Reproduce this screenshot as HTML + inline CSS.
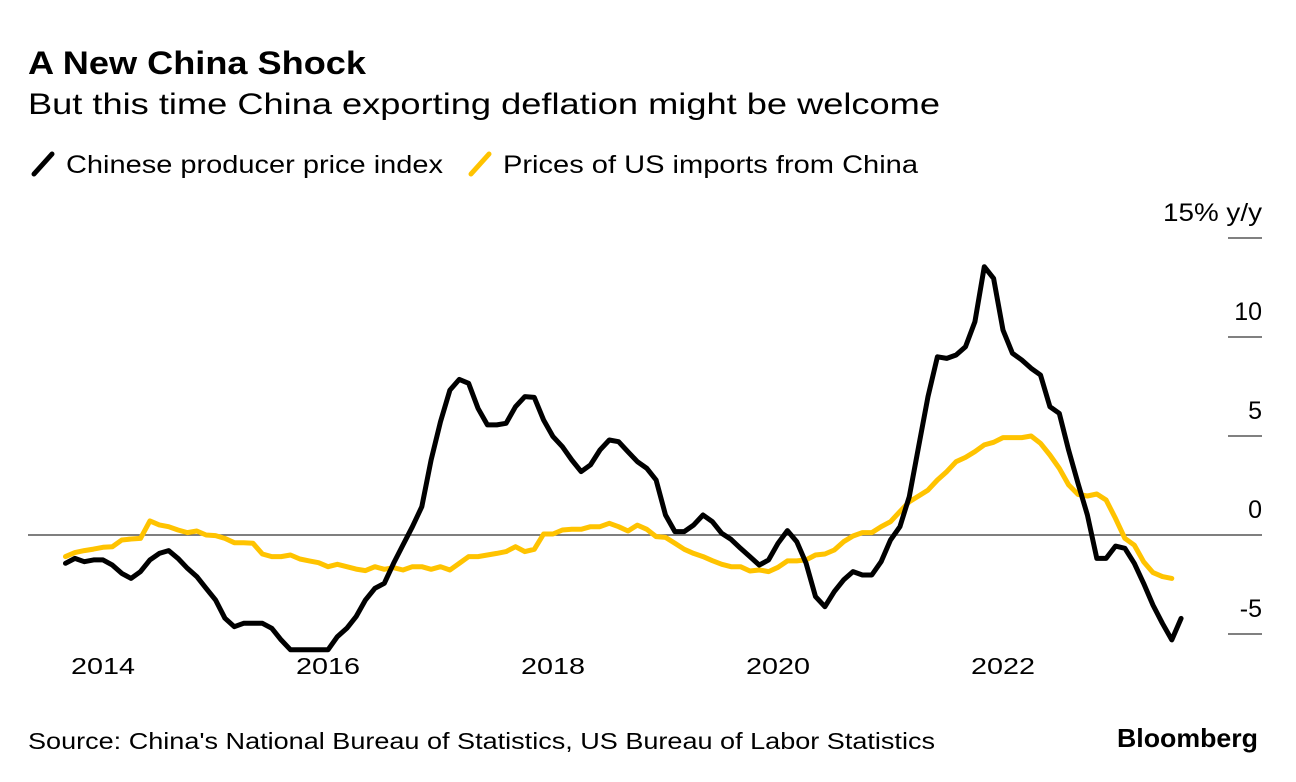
<!DOCTYPE html>
<html><head><meta charset="utf-8"><style>
body{margin:0;background:#fff;font-family:"Liberation Sans",Arial,sans-serif;}
svg{display:block}
</style></head><body>
<svg id="chart" width="1296" height="782" viewBox="0 0 1296 782">
<text x="28" y="74" font-size="32" font-weight="bold" fill="#000" textLength="338" lengthAdjust="spacingAndGlyphs">A New China Shock</text>
<text x="28" y="114" font-size="30" fill="#000" textLength="912" lengthAdjust="spacingAndGlyphs">But this time China exporting deflation might be welcome</text>
<g>
<g><line x1="34" y1="174" x2="52" y2="154" stroke="#000" stroke-width="5" stroke-linecap="round"/><text x="66" y="173" font-size="25" textLength="377" lengthAdjust="spacingAndGlyphs">Chinese producer price index</text></g>
<g><line x1="471" y1="174" x2="489" y2="154" stroke="#ffc300" stroke-width="5" stroke-linecap="round"/><text x="503" y="173" font-size="25" textLength="415" lengthAdjust="spacingAndGlyphs">Prices of US imports from China</text></g>
</g>
<g id="axes"></g>
<g id="series"></g>
<text x="28" y="749" font-size="23" textLength="907" lengthAdjust="spacingAndGlyphs">Source: China's National Bureau of Statistics, US Bureau of Labor Statistics</text>
<text x="1117" y="747" font-size="26" font-weight="bold" textLength="141" lengthAdjust="spacingAndGlyphs">Bloomberg</text>
</svg>
<script>
const startMonth = -4; // Sep 2013 relative to Jan 2014
const ppi = [-1.43,-1.18,-1.35,-1.26,-1.26,-1.52,-1.94,-2.19,-1.85,-1.26,-0.93,-0.79,-1.18,-1.68,-2.1,-2.69,-3.28,-4.2,-4.63,-4.46,-4.46,-4.46,-4.71,-5.3,-5.8,-5.8,-5.8,-5.8,-5.8,-5.13,-4.71,-4.12,-3.28,-2.69,-2.44,-1.43,-0.5,0.42,1.43,3.79,5.72,7.32,7.86,7.66,6.4,5.56,5.56,5.64,6.48,6.99,6.95,5.81,4.97,4.46,3.79,3.2,3.54,4.29,4.8,4.71,4.2,3.7,3.37,2.78,1.01,0.17,0.17,0.5,1.01,0.67,0.08,-0.22,-0.67,-1.09,-1.52,-1.26,-0.42,0.22,-0.34,-1.43,-3.11,-3.62,-2.86,-2.27,-1.85,-2.02,-2.02,-1.35,-0.25,0.42,1.94,4.46,6.99,9.0,8.92,9.09,9.51,10.77,13.55,12.96,10.35,9.18,8.84,8.42,8.08,6.48,6.14,4.29,2.61,1.01,-1.18,-1.18,-0.56,-0.67,-1.43,-2.44,-3.54,-4.46,-5.3,-4.21];
const usImports = [-1.09,-0.89,-0.79,-0.71,-0.62,-0.59,-0.25,-0.2,-0.17,0.71,0.51,0.42,0.25,0.12,0.2,0,-0.03,-0.17,-0.39,-0.39,-0.42,-0.96,-1.09,-1.09,-1.01,-1.21,-1.31,-1.4,-1.6,-1.48,-1.6,-1.72,-1.8,-1.6,-1.73,-1.65,-1.77,-1.6,-1.6,-1.73,-1.6,-1.77,-1.43,-1.09,-1.09,-1.01,-0.93,-0.84,-0.59,-0.84,-0.72,0.05,0.05,0.25,0.29,0.29,0.42,0.42,0.59,0.42,0.2,0.5,0.29,-0.08,-0.12,-0.42,-0.72,-0.93,-1.09,-1.3,-1.48,-1.6,-1.6,-1.82,-1.77,-1.85,-1.63,-1.31,-1.31,-1.26,-1.01,-0.96,-0.76,-0.34,-0.05,0.12,0.12,0.42,0.67,1.18,1.68,1.97,2.27,2.78,3.2,3.7,3.92,4.21,4.55,4.68,4.92,4.92,4.92,5.0,4.63,4.04,3.37,2.53,2.05,1.97,2.07,1.77,0.84,-0.17,-0.51,-1.35,-1.9,-2.1,-2.19];
const yTicks = [-5,0,5,10,15];
const yTickLabels = ["-5","0","5","10","15% y/y"];
const xYears = [2014,2016,2018,2020,2022];

const NS="http://www.w3.org/2000/svg";
function xScale(m){return 103 + m*9.375;}
function yScale(v){return 535 - v*19.8;}
function yearX(y){return xScale((y-2014)*12);}
const axes=document.getElementById('axes'), series=document.getElementById('series');
function mk(tag,attrs,parent){const e=document.createElementNS(NS,tag);for(const k in attrs)e.setAttribute(k,attrs[k]);parent.appendChild(e);return e;}

yTicks.forEach((t,i)=>{
  const y=yScale(t);
  const ln=mk('line',{x1:1228,x2:1262,y1:y,y2:y,stroke:'#000','stroke-width':1},axes);
  
  
  const tx=mk('text',{x:1262,y:y-17,'font-size':25,'text-anchor':'end'},axes);
  if(yTickLabels[i].length>3){tx.setAttribute('textLength','99');tx.setAttribute('lengthAdjust','spacingAndGlyphs');}
  tx.textContent=yTickLabels[i];
  
  
});
const zl=mk('line',{x1:28,x2:1262,y1:yScale(0),y2:yScale(0),stroke:'#555','stroke-width':1.5},axes);


xYears.forEach(yr=>{
  const tx=mk('text',{x:yearX(yr)-32,y:674,'font-size':23,textLength:64,lengthAdjust:'spacingAndGlyphs'},axes);
  tx.textContent=String(yr);
  
  
});
function line(data,color,name){
  const pts=data.map((v,i)=>xScale(startMonth+i).toFixed(1)+','+yScale(v).toFixed(1)).join(' ');
  const p=mk('polyline',{points:pts,fill:'none',stroke:color,'stroke-width':5,'stroke-linejoin':'round','stroke-linecap':'round'},series);
  
  
}
line(usImports,'#ffc300','us-imports-line');
line(ppi,'#000','ppi-line');
</script>
</body></html>
